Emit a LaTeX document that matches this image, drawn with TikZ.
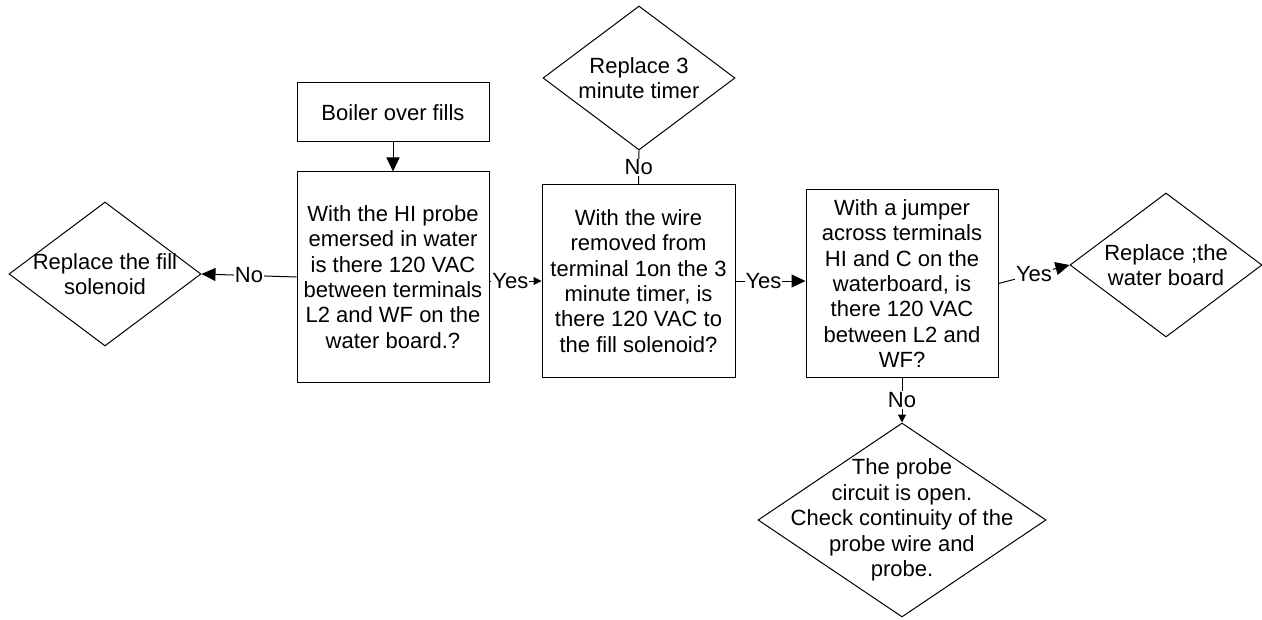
\documentclass[tikz,border=0pt]{standalone}
\usepackage{fontspec}
\setmainfont{Liberation Sans}
\usetikzlibrary{shapes.geometric,arrows.meta}

\begin{document}
\begin{tikzpicture}[x=0.5pt,y=-0.5pt,line width=0.5pt,
  every node/.style={font=\fontsize{11}{12.7}\selectfont,align=center},
  box/.style={draw,rectangle,inner sep=0pt,minimum width=96pt},
  dia/.style={draw,diamond,inner sep=0pt,minimum width=96pt,minimum height=72pt},
  tag/.style={fill=white,inner sep=0.5pt},
  big/.style={-{Triangle[length=7pt,width=6.5pt]}},
  small/.style={-{Triangle[length=4pt,width=4pt]}}]
\useasboundingbox (0,0) rectangle (1262,620);
\node[box,minimum height=29.5pt] (boiler) at (393,112.5) {Boiler over fills};
\node[box,minimum height=105pt] (probeq) at (393,277) {With the HI probe\\emersed in water\\is there 120 VAC\\between terminals\\L2 and WF on the\\water board.?};
\node[dia] (fillsol) at (105,274) {};
\node (fillsoltxt) at (fillsol) {Replace the fill\\solenoid};
\node[box,minimum width=96.5pt,minimum height=96pt] (wireq) at (638.5,281) {With the wire\\removed from\\terminal 1on the 3\\minute timer, is\\there 120 VAC to\\the fill solenoid?};
\node[dia] (timer) at (639,78) {};
\node (timertxt) at (timer) {Replace 3\\minute timer};
\node[box,minimum height=93.5pt] (jumpq) at (902,283.5) {With a jumper\\across terminals\\HI and C on the\\waterboard,  is\\there 120 VAC\\between L2 and\\WF?};
\node[dia] (wboard) at (1166,265) {};
\node (wboardtxt) at (wboard) {Replace ;the\\water board};
\node[dia,minimum width=144pt,minimum height=97pt] (circuit) at (902,520) {};
\node (circuittxt) at (circuit) {The probe\\circuit is open.\\Check continuity of the\\probe wire and\\probe.};
\draw[big] (boiler) -- (probeq);
\draw[big] (probeq.west) -- node[tag] {No} (fillsol.east);
\draw[small] (probeq.east |- wireq.west) -- node[tag,pos=0.4] {Yes} (wireq.west);
\draw (wireq.north) -- node[tag] {No} (timer.south);
\draw[big] (wireq.east) -- node[tag,pos=0.4] {Yes} (wireq.east -| jumpq.west);
\draw[big] (jumpq.east) -- node[tag] {Yes} (wboard.west);
\draw[small] (jumpq.south) -- node[tag] {No} (circuit.north);
\end{tikzpicture}
\end{document}
